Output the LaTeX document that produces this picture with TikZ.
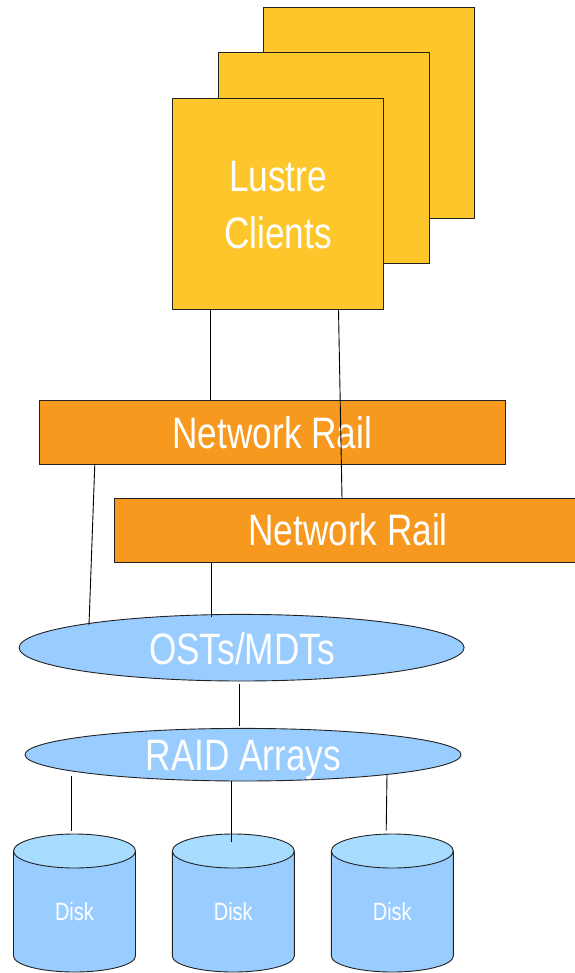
\documentclass[tikz,border=0pt]{standalone}
\usepackage{fontspec}
\setmainfont{Liberation Sans}
\newfontfamily\nar[FakeStretch=0.8]{Liberation Sans}
\usetikzlibrary{shapes.geometric}
\definecolor{clientfill}{HTML}{FDC62A}
\definecolor{railfill}{HTML}{F7991F}
\definecolor{ellfill}{HTML}{99CCFF}
\definecolor{disktop}{HTML}{A8DCFF}
\definecolor{edge}{HTML}{222222}
\tikzset{
  clientbox/.style={draw=edge, line width=1pt, fill=clientfill, rectangle, minimum width=211pt, minimum height=211pt, inner sep=0pt},
  railbox/.style={draw=edge, line width=1pt, fill=railfill, rectangle, minimum height=64pt, inner sep=0pt},
  storeell/.style={draw=edge, line width=0.9pt, fill=ellfill, ellipse, inner sep=0pt},
  bigtxt/.style={text=white, font=\nar\fontsize{44}{56}\selectfont, anchor=base, inner sep=0pt},
  smalltxt/.style={text=white, font=\nar\fontsize{25}{30}\selectfont, anchor=base, inner sep=0pt},
  wire/.style={draw=black, line width=0.9pt},
  diskline/.style={draw=edge, line width=0.9pt}
}
\newcommand{\drawdisk}[2]{%
  \fill[ellfill] (#1-61,851) rectangle (#1+61,956);
  \fill[ellfill] (#1,956) ellipse [x radius=61, y radius=16];
  \draw[diskline] (#1-61,851) -- (#1-61,956) arc[start angle=180, end angle=0, x radius=61, y radius=16] -- (#1+61,851);
  \draw[diskline, fill=disktop] (#1,851) ellipse [x radius=61, y radius=17];
  \coordinate (#2top) at (#1,851);
  \node[smalltxt] (#2lbl) at (#1,920.7) {Disk};
}
\begin{document}
\begin{tikzpicture}[x=1pt, y=-1pt]
\useasboundingbox (0,0) rectangle (574,973);
% client boxes
\node[clientbox] (box3) at (368.5,112.8) {};
\node[clientbox] (box2) at (323.5,158.5) {};
\node[clientbox] (box1) at (278,203.8) {};
\node[bigtxt] (lustre) at (278,191.7) {Lustre};
\node[bigtxt] (clientstxt) at (278,248.3) {Clients};
% network rails
\node[railbox, minimum width=466pt] (rail1) at (272.3,432.5) {};
\node[bigtxt] (rail1txt) at (272.3,448.3) {Network Rail};
\node[railbox, minimum width=470pt] (rail2) at (349,530.5) {};
\node[bigtxt] (rail2txt) at (348,545.7) {Network Rail};
% ellipses
\node[storeell, minimum width=445pt, minimum height=66.6pt] (ost) at (241.6,647.7) {};
\node[bigtxt] (osttxt) at (242,664) {OSTs/MDTs};
\node[storeell, minimum width=436pt, minimum height=52.6pt] (raid) at (243,754.7) {};
\node[bigtxt] (raidtxt) at (243.4,770) {RAID Arrays};
% disks
\drawdisk{74.5}{diskA}
\drawdisk{233.3}{diskB}
\drawdisk{392.3}{diskC}
% connectors
\draw[wire] (210.8,0 |- box1.south) -- (210.8,0 |- rail1.north);
\coordinate (c2a) at (338.5,309.5);
\coordinate (c2b) at (342,498.3);
\draw[wire] (c2a) -- (c2b);
\coordinate (r1a) at (94.8,464.3);
\coordinate (r1b) at (89,625);
\draw[wire] (r1a) -- (r1b);
\coordinate (r2b) at (211,616.7);
\draw[wire] (211,0 |- rail2.south) -- (r2b);
\draw[wire] (239.7,684.3) coordinate (oa) -- (239.7,725.7) coordinate (ob);
\coordinate (d1a) at (71.7,776);
\coordinate (d1b) at (71.7,830.7);
\draw[wire] (d1a) -- (d1b);
\coordinate (d2a) at (231.5,781);
\coordinate (d2b) at (231.5,841.7);
\draw[wire] (d2a) -- (d2b);
\coordinate (d3a) at (387,775);
\coordinate (d3b) at (386.2,830.5);
\draw[wire] (d3a) -- (d3b);
\end{tikzpicture}
\end{document}
